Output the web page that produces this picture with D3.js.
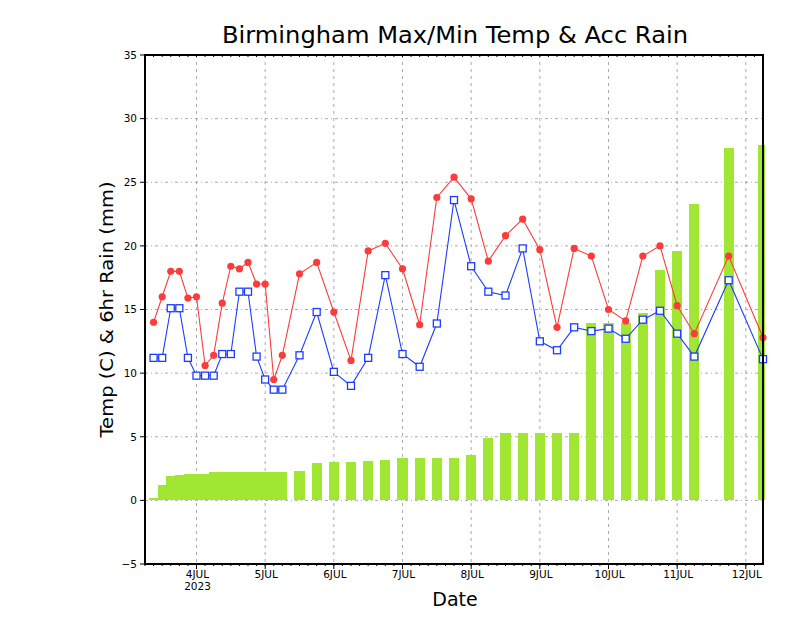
<!DOCTYPE html>
<html><head><meta charset="utf-8">
<script src="https://cdn.jsdelivr.net/npm/d3@7"></script>
<style>body{margin:0;background:#fff}svg{display:block}</style>
</head><body>
<svg id="c" width="800" height="618"></svg>
<script>
// ---- data ----
const times = [
 "2023-07-03T09","2023-07-03T12","2023-07-03T15","2023-07-03T18","2023-07-03T21",
 "2023-07-04T00","2023-07-04T03","2023-07-04T06","2023-07-04T09","2023-07-04T12","2023-07-04T15","2023-07-04T18","2023-07-04T21",
 "2023-07-05T00","2023-07-05T03","2023-07-05T06","2023-07-05T12","2023-07-05T18",
 "2023-07-06T00","2023-07-06T06","2023-07-06T12","2023-07-06T18",
 "2023-07-07T00","2023-07-07T06","2023-07-07T12","2023-07-07T18",
 "2023-07-08T00","2023-07-08T06","2023-07-08T12","2023-07-08T18",
 "2023-07-09T00","2023-07-09T06","2023-07-09T12","2023-07-09T18",
 "2023-07-10T00","2023-07-10T06","2023-07-10T12","2023-07-10T18",
 "2023-07-11T00","2023-07-11T06","2023-07-11T18","2023-07-12T06"
];
const maxTemp = [14.0,16.0,18.0,18.0,15.9, 16.0,10.6,11.4,15.5,18.4,18.2,18.7,17.0,
 17.0,9.5,11.4,17.8,18.7, 14.8,11.0,19.6,20.2, 18.2,13.8,23.8,25.4,
 23.7,18.8,20.8,22.1, 19.7,13.6,19.8,19.2, 15.0,14.1,19.2,20.0, 15.3,13.1,19.2,12.8];
const minTemp = [11.2,11.2,15.1,15.1,11.2, 9.8,9.8,9.8,11.5,11.5,16.4,16.4,11.3,
 9.5,8.7,8.7,11.4,14.8, 10.1,9.0,11.2,17.7, 11.5,10.5,13.9,23.6,
 18.4,16.4,16.1,19.8, 12.5,11.8,13.6,13.3, 13.5,12.7,14.2,14.9, 13.1,11.3,17.3,11.1];
const accRain = [0.2,1.2,1.9,2.0,2.1, 2.1,2.1,2.2,2.2,2.2,2.2,2.2,2.2,
 2.2,2.2,2.2,2.3,2.9, 3.0,3.0,3.1,3.2, 3.3,3.3,3.3,3.3,
 3.6,4.9,5.3,5.3, 5.3,5.3,5.3,13.9, 13.9,13.9,14.7,18.1, 19.6,23.3,27.7,27.9];
const xDomain = ["2023-07-03T06","2023-07-12T06"];
const xTickDates = ["2023-07-04","2023-07-05","2023-07-06","2023-07-07","2023-07-08","2023-07-09","2023-07-10","2023-07-11","2023-07-12"];
const xTickLabels = ["4JUL","5JUL","6JUL","7JUL","8JUL","9JUL","10JUL","11JUL","12JUL"];
const yTicks = [-5,0,5,10,15,20,25,30,35];
const yTickLabels = ["\u22125","0","5","10","15","20","25","30","35"];
const titleText = "Birmingham Max/Min Temp & Acc Rain";
const yTitle = "Temp (C) & 6hr Rain (mm)";
const xTitle = "Date";
const yearLabel = "2023";

// ---- layout ----
const L=145, R=763, T=55, B=564;
const ph = d3.utcParse("%Y-%m-%dT%H"), pd = d3.utcParse("%Y-%m-%d");
const tt = times.map(ph);
const x = d3.scaleUtc().domain(xDomain.map(ph)).range([L,R]);
const y = d3.scaleLinear().domain([-5,35]).range([B,T]);
const svg = d3.select("#c");
const font = "DejaVu Sans, sans-serif";
const red="rgb(250,60,60)", blue="rgb(30,60,255)", green="rgb(160,230,50)", grid="#aaaaaa";

// grid
const gg = svg.append("g");
xTickDates.map(pd).forEach(d=>{
  gg.append("line").attr("x1",x(d)).attr("x2",x(d)).attr("y1",T).attr("y2",B)
    .attr("stroke",grid).attr("stroke-width",1).attr("stroke-dasharray","3,4");
});
yTicks.slice(1,-1).forEach(v=>{
  gg.append("line").attr("x1",L).attr("x2",R).attr("y1",y(v)).attr("y2",y(v))
    .attr("stroke",grid).attr("stroke-width",1).attr("stroke-dasharray","3,3,1,3");
});

// bars
const maxW = 3.5*3600e3;
svg.append("defs").append("clipPath").attr("id","clp").append("rect")
  .attr("x",L).attr("y",T).attr("width",R-L+2).attr("height",B-T);
svg.append("g").attr("clip-path","url(#clp)").attr("shape-rendering","crispEdges")
  .selectAll("rect").data(tt).join("rect")
  .each(function(d,i){
    const prev = i>0 ? d-tt[i-1] : Infinity, next = i<tt.length-1 ? tt[i+1]-d : Infinity;
    const w = Math.min(prev,next,maxW);
    const x0 = Math.round(x(new Date(+d - w/2))), x1 = Math.round(x(new Date(+d + w/2)));
    d3.select(this).attr("x",x0).attr("width",x1-x0)
      .attr("y",y(accRain[i])).attr("height",y(0)-y(accRain[i])).attr("fill",green);
  });

// lines
const line = d3.line().x((d,i)=>x(tt[i])).y(d=>y(d));
svg.append("path").attr("d",line(maxTemp)).attr("fill","none").attr("stroke",red).attr("stroke-width",1.1);
svg.append("path").attr("d",line(minTemp)).attr("fill","none").attr("stroke",blue).attr("stroke-width",1.1);
svg.append("g").selectAll("circle").data(maxTemp).join("circle")
  .attr("cx",(d,i)=>x(tt[i])).attr("cy",d=>y(d)).attr("r",3.6).attr("fill",red);
svg.append("g").selectAll("rect").data(minTemp).join("rect")
  .attr("x",(d,i)=>x(tt[i])-3.5).attr("y",d=>y(d)-3.5).attr("width",7).attr("height",7)
  .attr("fill","#fff").attr("stroke",blue).attr("stroke-width",1.3);

// frame
svg.append("rect").attr("x",L).attr("y",T).attr("width",R-L).attr("height",B-T)
  .attr("fill","none").attr("stroke","#000").attr("stroke-width",2);

// minor ticks (3-hourly) on top and bottom
const minor = d3.utcHour.every(3).range(x.domain()[0], x.domain()[1]);
minor.forEach(d=>{
  svg.append("line").attr("x1",x(d)).attr("x2",x(d)).attr("y1",B).attr("y2",B+2).attr("stroke","#000").attr("stroke-width",1);
  svg.append("line").attr("x1",x(d)).attr("x2",x(d)).attr("y1",T).attr("y2",T+2).attr("stroke","#000").attr("stroke-width",1);
});

// x axis ticks + labels
xTickDates.map(pd).forEach((d,i)=>{
  svg.append("line").attr("x1",x(d)).attr("x2",x(d)).attr("y1",B).attr("y2",B+5).attr("stroke","#000");
  svg.append("text").attr("x",x(d)+1).attr("y",578).attr("text-anchor","middle")
    .attr("font-family",font).attr("font-size",10.5).text(xTickLabels[i]);
});
svg.append("text").attr("x",x(pd(xTickDates[0]))+1).attr("y",590).attr("text-anchor","middle")
  .attr("font-family",font).attr("font-size",10.5).text(yearLabel);

// y axis ticks + labels
yTicks.forEach((v,i)=>{
  svg.append("line").attr("x1",L-5).attr("x2",L).attr("y1",y(v)).attr("y2",y(v)).attr("stroke","#000");
  svg.append("text").attr("x",L-8).attr("y",y(v)+3.8).attr("text-anchor","end")
    .attr("font-family",font).attr("font-size",10.5).text(yTickLabels[i]);
});

// titles
svg.append("text").attr("x",455).attr("y",43).attr("text-anchor","middle")
  .attr("font-family",font).attr("font-size",23).attr("textLength",466).attr("lengthAdjust","spacingAndGlyphs").text(titleText);
svg.append("text").attr("transform","translate(113,309.5) rotate(-90)").attr("text-anchor","middle")
  .attr("font-family",font).attr("font-size",18).attr("textLength",256).attr("lengthAdjust","spacingAndGlyphs").text(yTitle);
svg.append("text").attr("x",455).attr("y",606).attr("text-anchor","middle")
  .attr("font-family",font).attr("font-size",19).text(xTitle);
</script>
</body></html>
